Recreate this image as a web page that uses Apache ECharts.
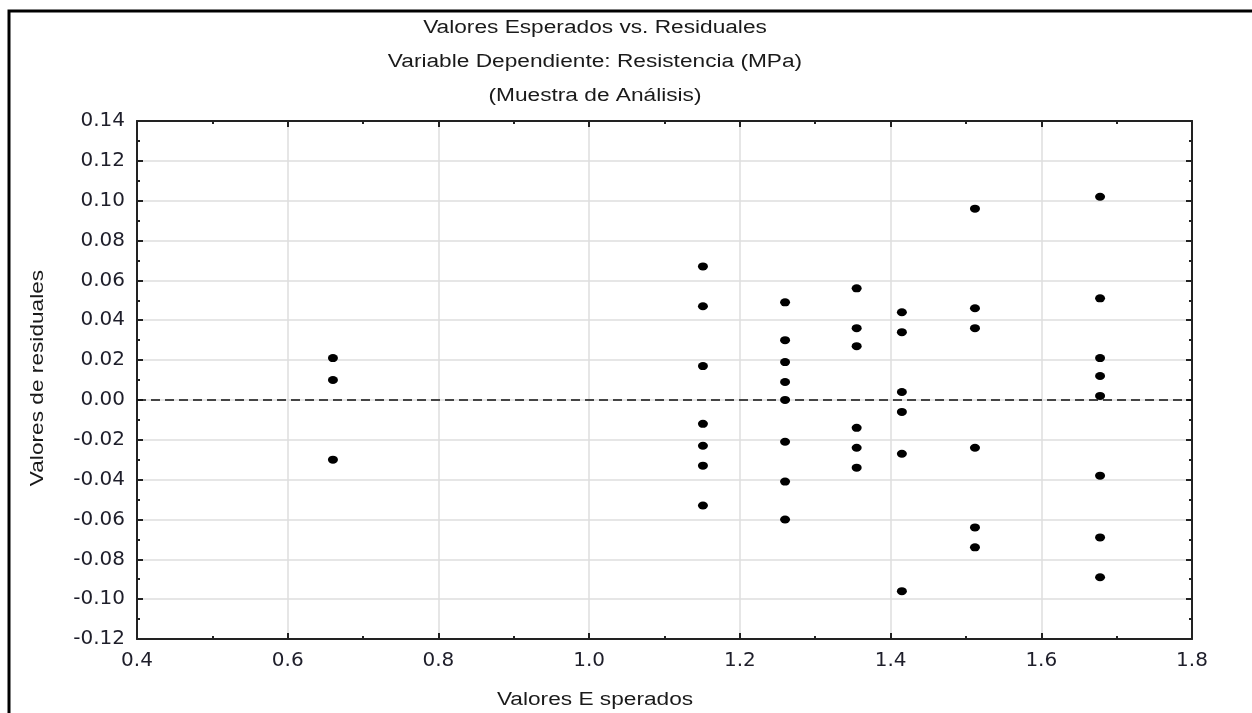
<!DOCTYPE html>
<html>
<head>
<meta charset="utf-8">
<script src="https://cdn.jsdelivr.net/npm/echarts@6/dist/echarts.min.js"></script>
<style>
html,body{margin:0;padding:0;background:#fff;}
#chart{width:1252px;height:713px;}
</style>
</head>
<body>
<div id="chart"></div>
<script>
// Data
const titleLines = ['Valores Esperados vs. Residuales', 'Variable Dependiente: Resistencia (MPa)', '(Muestra de Análisis)'];
const xAxisName = 'Valores E sperados';
const yAxisName = 'Valores de residuales';
const fittedLevels = [0.660, 1.151, 1.260, 1.355, 1.415, 1.512, 1.678];
const residuals0 = [0.021, 0.010, -0.030];
const residuals1 = [0.067, 0.047, 0.017, -0.012, -0.023, -0.033, -0.053];
const residuals2 = [0.049, 0.030, 0.019, 0.009, 0.000, -0.021, -0.041, -0.060];
const residuals3 = [0.056, 0.036, 0.027, -0.014, -0.024, -0.034];
const residuals4 = [0.044, 0.034, 0.004, -0.006, -0.027, -0.096];
const residuals5 = [0.096, 0.046, 0.036, -0.024, -0.064, -0.074];
const residuals6 = [0.102, 0.051, 0.021, 0.012, 0.002, -0.038, -0.069, -0.089];
const residualGroups = [residuals0, residuals1, residuals2, residuals3, residuals4, residuals5, residuals6];
const xMin = 0.4, xMax = 1.8, xStep = 0.2;
const yMin = -0.12, yMax = 0.14, yStep = 0.02;

const points = [];
residualGroups.forEach((g, i) => g.forEach(r => points.push([fittedLevels[i], r])));

const chart = echarts.init(document.getElementById('chart'), null, {renderer: 'canvas'});
const lineCol = '#222';
const gridCol = '#dedede';
const labelFont = {fontFamily: 'DejaVu Sans', fontSize: 20, color: '#1e1e2a'};
const textFontCss = '18px "Liberation Sans"';
const textStretch = 1.26;

function axisBase() {
  return {
    axisLine: {show: true, onZero: false, lineStyle: {color: lineCol, width: 2}},
    axisTick: {show: true, inside: true, length: 6, lineStyle: {color: lineCol, width: 2}},
    minorTick: {show: true, splitNumber: 2, length: 3, lineStyle: {color: lineCol, width: 2}},
    minorSplitLine: {show: false}
  };
}

const titleGraphics = titleLines.map((t, i) => ({
  type: 'text', silent: true, x: 595, y: 28 + i * 34, scaleX: textStretch,
  style: {text: t, align: 'center', verticalAlign: 'middle', font: textFontCss, fill: '#1a1a1a'}
}));

chart.setOption({
  animation: false,
  backgroundColor: '#fff',
  grid: {left: 137, right: 60, top: 121, bottom: 74, containLabel: false},
  xAxis: [
    Object.assign(axisBase(), {
      type: 'value', min: xMin, max: xMax, interval: xStep, position: 'bottom',
      axisLabel: Object.assign({margin: 12, formatter: v => v.toFixed(1)}, labelFont),
      splitLine: {show: true, lineStyle: {color: gridCol, width: 1.5}}
    }),
    Object.assign(axisBase(), {
      type: 'value', min: xMin, max: xMax, interval: xStep, position: 'top',
      axisLabel: {show: false}, splitLine: {show: false}
    })
  ],
  yAxis: [
    Object.assign(axisBase(), {
      type: 'value', min: yMin, max: yMax, interval: yStep, position: 'left',
      axisLabel: Object.assign({margin: 12, formatter: v => v.toFixed(2)}, labelFont),
      splitLine: {show: true, lineStyle: {color: gridCol, width: 1.5}}
    }),
    Object.assign(axisBase(), {
      type: 'value', min: yMin, max: yMax, interval: yStep, position: 'right',
      axisLabel: {show: false}, splitLine: {show: false}
    })
  ],
  series: [{
    type: 'scatter',
    xAxisIndex: 0, yAxisIndex: 0,
    data: points,
    symbol: 'circle',
    symbolSize: [10, 8],
    itemStyle: {color: '#000', opacity: 1},
    z: 5,
    markLine: {
      silent: true, symbol: 'none', label: {show: false},
      lineStyle: {color: '#111', type: [9, 5], width: 1.5, opacity: 1},
      data: [{yAxis: 0}]
    }
  }],
  graphic: titleGraphics.concat([
    {type: 'rect', silent: true, shape: {x: 9, y: 11, width: 1300, height: 800},
     style: {fill: 'none', stroke: '#000', lineWidth: 3}},
    {type: 'text', silent: true, x: 595, y: 700, scaleX: textStretch,
     style: {text: xAxisName, align: 'center', verticalAlign: 'middle', font: textFontCss, fill: '#1a1a1a'}},
    {type: 'text', silent: true, x: 38, y: 378, rotation: Math.PI / 2, scaleX: textStretch,
     style: {text: yAxisName, align: 'center', verticalAlign: 'middle', font: textFontCss, fill: '#1a1a1a'}}
  ])
});
</script>
</body>
</html>
